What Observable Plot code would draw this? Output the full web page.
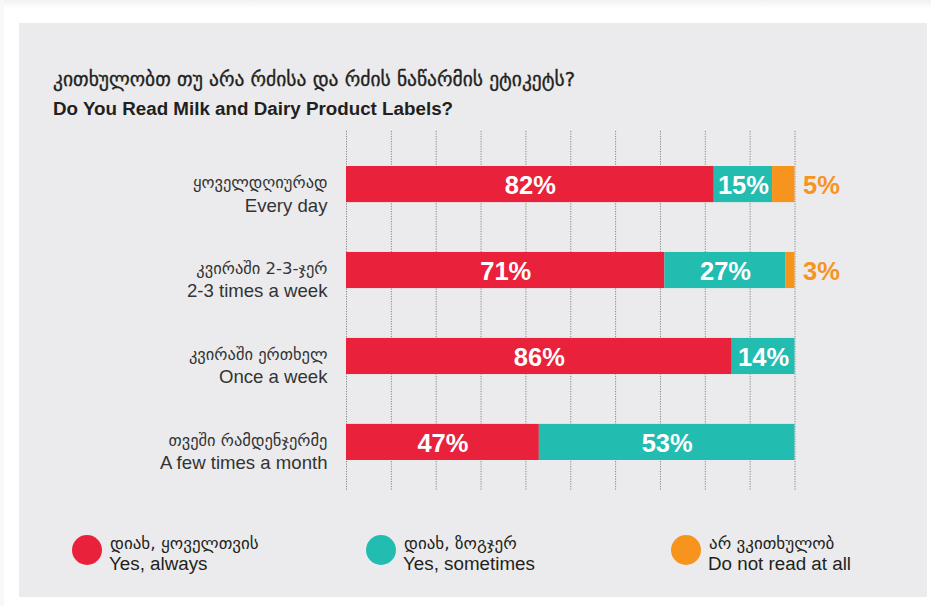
<!DOCTYPE html>
<html>
<head>
<meta charset="utf-8">
<script src="https://cdn.jsdelivr.net/npm/d3@7"></script>
<script src="https://cdn.jsdelivr.net/npm/@observablehq/plot@0.6"></script>
<style>
  html, body { margin: 0; padding: 0; background: #ffffff; }
  #page { position: relative; width: 931px; height: 606px; overflow: hidden; background: #ffffff; }
  #topstrip { position: absolute; left: 0; top: 0; width: 931px; height: 8px; background: linear-gradient(#f1f1f1, #ffffff); }
  #leftstrip { position: absolute; left: 0; top: 0; width: 4px; height: 606px; background: #f8f8f8; }
  #panel { position: absolute; left: 19px; top: 23px; width: 908px; height: 574px; background: #ebebed; }
  .abs { position: absolute; white-space: nowrap; color: #231f20; }
  .ka { font-family: "DejaVu Sans", sans-serif; }
  .en { font-family: "Liberation Sans", Arial, sans-serif; }
  #chart { position: absolute; left: 19px; top: 125px; }
  .dot { position: absolute; width: 30px; height: 30px; border-radius: 50%; }
</style>
</head>
<body>
<div id="page">
  <div id="topstrip"></div>
  <div id="leftstrip"></div>
  <div id="panel"></div>
  <div id="titleKa" class="abs ka" style="left:53px; top:68px; font-size:19.5px; line-height:normal; -webkit-text-stroke:0.35px #231f20;"></div>
  <div id="titleEn" class="abs en" style="left:53px; top:98px; font-size:18.8px; font-weight:bold; line-height:normal;"></div>
  <div id="chart"></div>
  <div id="legend"></div>
</div>
<script>
// ---- data ----
const titleKa = "კითხულობთ თუ არა რძისა და რძის ნაწარმის ეტიკეტს?";
const titleEn = "Do You Read Milk and Dairy Product Labels?";

const frequencyKa = ["ყოველდღიურად", "კვირაში 2-3-ჯერ", "კვირაში ერთხელ", "თვეში რამდენჯერმე"];
const frequencyEn = ["Every day", "2-3 times a week", "Once a week", "A few times a month"];

const answerKeys = ["always", "sometimes", "never"];
const answerKa = ["დიახ, ყოველთვის", "დიახ, ზოგჯერ", "არ ვკითხულობ"];
const answerEn = ["Yes, always", "Yes, sometimes", "Do not read at all"];
const answerColors = ["#e9213b", "#22bcb0", "#f7941d"];

// percentages as printed on the chart
const alwaysPct = [82, 71, 86, 47];
const sometimesPct = [15, 27, 14, 53];
const neverPct = [5, 3, 0, 0];

// segment lengths as drawn in the chart (%)
const alwaysBar = [82, 71, 86, 43];
const sometimesBar = [13, 27, 14, 57];
const neverBar = [5, 2, 0, 0];

const gridTicks = [0, 10, 20, 30, 40, 50, 60, 70, 80, 90, 100];

// ---- build tables ----
const pctByKey = {always: alwaysPct, sometimes: sometimesPct, never: neverPct};
const barByKey = {always: alwaysBar, sometimes: sometimesBar, never: neverBar};
const segments = [];
frequencyEn.forEach((freq, i) => {
  answerKeys.forEach(key => {
    segments.push({freq, key, len: barByKey[key][i], pct: pctByKey[key][i]});
  });
});
const rows = frequencyEn.map((en, i) => ({en, ka: frequencyKa[i]}));

document.getElementById("titleKa").textContent = titleKa;
document.getElementById("titleEn").textContent = titleEn;

const latin = "'Liberation Sans', Arial, sans-serif";
const georgian = "'DejaVu Sans', sans-serif";

const chart = Plot.plot({
  width: 908,
  height: 370,
  marginLeft: 327,
  marginRight: 132.5,
  marginTop: 6,
  marginBottom: 5,
  style: {background: "transparent", fontFamily: latin, overflow: "visible"},
  x: {domain: [0, 100], axis: null},
  y: {domain: frequencyEn, range: [41, 335], paddingInner: 0.58, paddingOuter: 0, round: false, axis: null},
  color: {domain: answerKeys, range: answerColors},
  marks: [
    Plot.gridX(gridTicks, {stroke: "#858585", strokeOpacity: 1, strokeWidth: 1, strokeDasharray: "1.2,1.3"}),
    Plot.barX(segments, Plot.stackX({x: "len", y: "freq", fill: "key", order: null})),
    Plot.text(segments, Plot.stackX({
      x: "len", y: "freq", order: null,
      text: d => d.key !== "never" && d.pct > 0 ? d.pct + "%" : null,
      fill: "#ffffff", fontWeight: "bold", fontSize: 25.5, dy: 1.5
    })),
    Plot.text(segments, Plot.stackX2({
      x: "len", y: "freq", order: null,
      text: d => d.key === "never" && d.pct > 0 ? d.pct + "%" : null,
      fill: "#f7941d", fontWeight: "bold", fontSize: 25.5, dy: 1.5, dx: 8, textAnchor: "start"
    })),
    Plot.text(rows, {y: "en", text: "ka", frameAnchor: "left", dx: -19, dy: -2, textAnchor: "end",
      fontFamily: georgian, fontSize: 16.5, fill: "#333333"}),
    Plot.text(rows, {y: "en", text: "en", frameAnchor: "left", dx: -19, dy: 21, textAnchor: "end",
      fontFamily: latin, fontSize: 18.6, fill: "#333333"})
  ]
});
document.getElementById("chart").appendChild(chart);

// ---- legend ----
const legend = document.getElementById("legend");
const legendX = [72, 366, 671];
answerKeys.forEach((key, i) => {
  const dot = document.createElement("div");
  dot.className = "dot";
  dot.style.left = legendX[i] + "px";
  dot.style.top = "535px";
  dot.style.background = answerColors[i];
  legend.appendChild(dot);
  const ka = document.createElement("div");
  ka.className = "abs ka";
  ka.style.cssText += `left:${legendX[i] + 38}px; top:533px; font-size:17px; line-height:normal;`;
  ka.textContent = answerKa[i];
  legend.appendChild(ka);
  const en = document.createElement("div");
  en.className = "abs en";
  en.style.cssText += `left:${legendX[i] + 37}px; top:553px; font-size:18.8px; line-height:normal;`;
  en.textContent = answerEn[i];
  legend.appendChild(en);
});
</script>
</body>
</html>
